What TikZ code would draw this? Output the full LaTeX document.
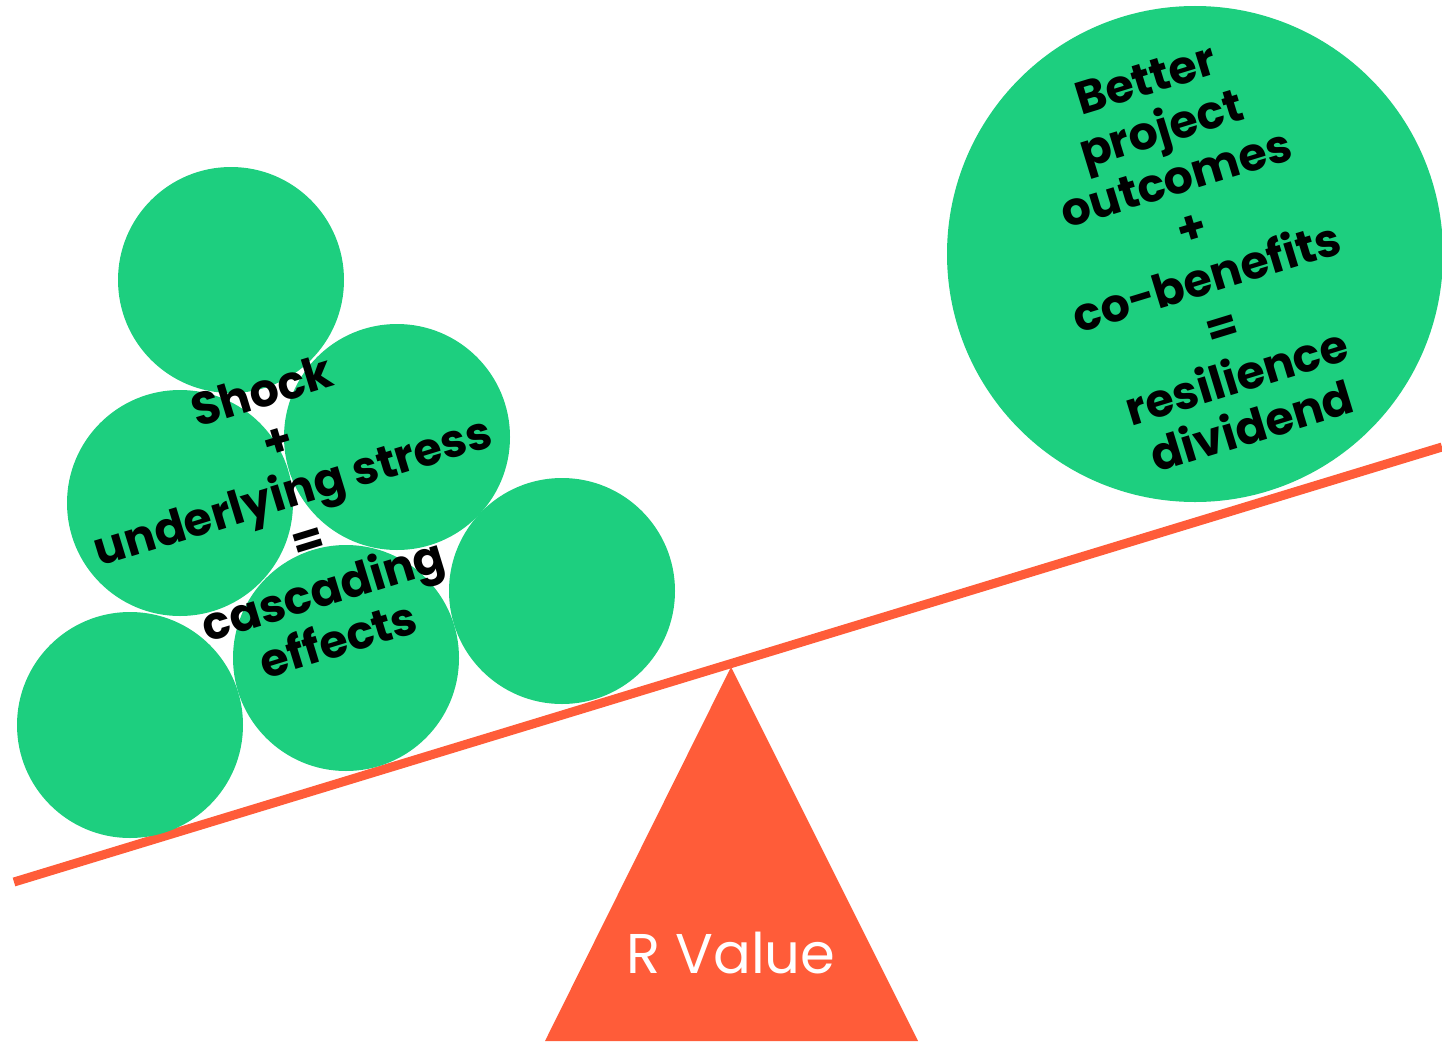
\documentclass[tikz,border=0pt]{standalone}
\usepackage{fontspec}
\setmainfont{Poppins}
\definecolor{ballgreen}{RGB}{29,207,127}
\definecolor{beamred}{RGB}{255,92,57}
\tikzset{
  ball/.style={circle,fill=ballgreen,inner sep=0pt,minimum size=226pt},
  tag/.style={font=\bfseries\fontsize{46}{52}\selectfont,align=center,rotate=17,inner sep=0pt},
}

\begin{document}
\begin{tikzpicture}[x=1pt,y=-1pt]
  \useasboundingbox (0,0) rectangle (1442,1041);
  % the pivot
  \coordinate (apex) at (731,667);
  \coordinate (baseL) at (545,1041);
  \coordinate (baseR) at (918,1041);
  \fill[beamred] (apex) -- (baseR) -- (baseL) -- cycle;
  \node[text=white,font=\fontsize{56}{60}\selectfont] (rval) at (731,953) {R Value};
  % the beam
  \coordinate (beamL) at (14,882);
  \coordinate (beamR) at (1442,447);
  \draw[beamred,line width=9pt] (beamL) -- (beamR);
  % the pile on the left
  \foreach \name/\x/\y in {top/231/280,midl/180/503,midr/397/437,lowl/130/725,lowm/346/658,lowr/562/591}
    \node[ball] (\name) at (\x,\y) {};
  \node[tag] (shock) at (300,515) {Shock\\+\\underlying stress\\=\\cascading\\effects};
  % the one on the right
  \node[ball,minimum size=496pt] (big) at (1195,254) {};
  \node[tag] (better) at (1199,253) {Better\\project\\outcomes\\+\\co-benefits\\=\\resilience\\dividend};
\end{tikzpicture}
\end{document}
